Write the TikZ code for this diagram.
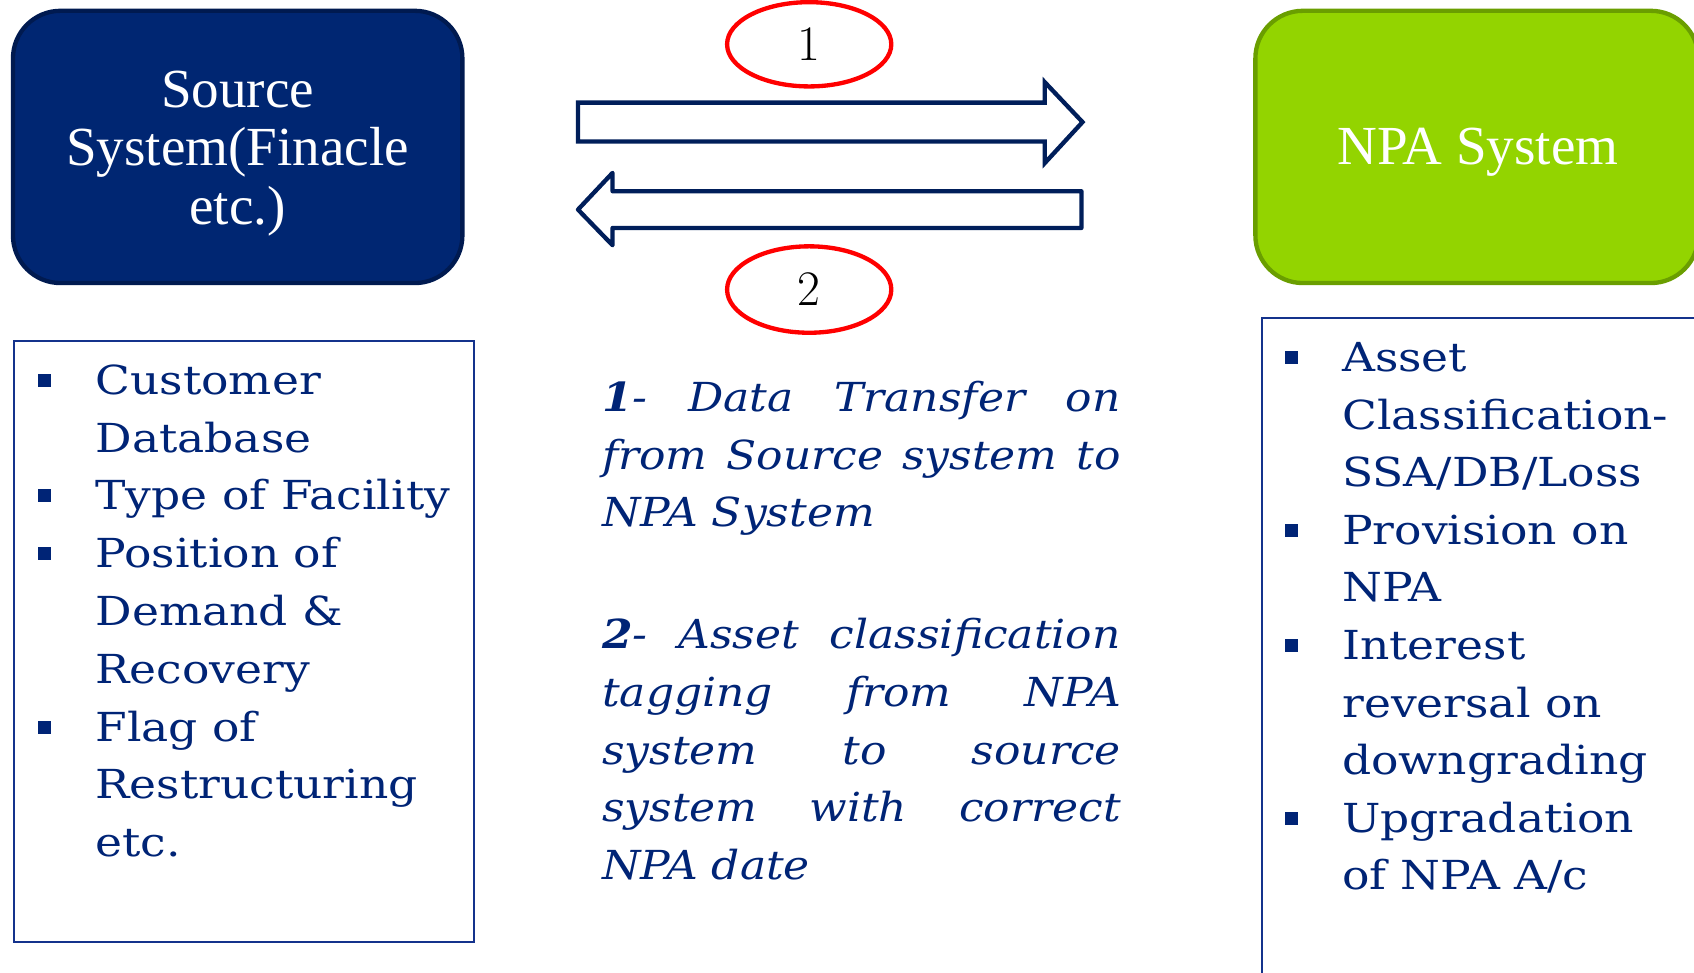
\documentclass[tikz,border=0pt]{standalone}
\usepackage{fontspec}
\newfontfamily\listfont[FakeStretch=1.14]{DejaVu Serif}
\newfontfamily\itlistfont[FakeStretch=1.1]{DejaVu Serif}
\newfontfamily\titlefont{Liberation Serif}
\usetikzlibrary{shapes.geometric}
\definecolor{navytext}{RGB}{0,36,118}
\definecolor{srcfill}{RGB}{0,38,114}
\definecolor{srcborder}{RGB}{0,26,80}
\definecolor{npafill}{RGB}{147,212,0}
\definecolor{npaborder}{RGB}{106,158,0}
\definecolor{arrowline}{RGB}{0,30,90}
\definecolor{ellred}{RGB}{255,0,0}
\definecolor{boxline}{RGB}{20,50,140}
\newcommand\blt{\makebox[26.5pt][l]{\rule[3.5pt]{6pt}{6pt}}}
\newcommand\ind{\hspace*{26.5pt}}
\begin{document}
\begin{tikzpicture}[x=0.5pt,y=-0.5pt,
  sysbox/.style={rounded corners=22pt, line width=2pt, minimum height=126pt,
    inner sep=0pt},
  systext/.style={inner sep=0pt, text=white, align=center,
    font=\titlefont\fontsize{25.5}{27}\selectfont},
  numell/.style={ellipse, draw=ellred, line width=2pt, minimum width=76pt,
    minimum height=39pt, inner sep=0pt, font=\fontsize{23}{25}\selectfont},
  bigarrow/.style={draw=arrowline, fill=white, line width=2pt},
  listbox/.style={draw=boxline, line width=1pt, inner sep=0pt},
  listtext/.style={anchor=base west, inner sep=0pt, text=navytext}]
\useasboundingbox (0,0) rectangle (1568,900);
\clip (0,0) rectangle (1568,900);
% system boxes
\node[sysbox, fill=srcfill, draw=srcborder, minimum width=208pt] (src) at (220,136) {};
\node[systext] (srclabel) at (220,142) {Source\\System(Finacle\\etc.)};
\node[sysbox, fill=npafill, draw=npaborder, minimum width=205pt] (npa) at (1367,136) {};
\node[systext] (npalabel) at (1368,141) {NPA System};
% arrows
\draw[bigarrow, line join=miter] (535,95) coordinate (a1s) -- (967,95) -- (967,76) -- (1002,113) coordinate (a1t)
  -- (967,151) -- (967,131) -- (535,131) -- cycle;
\draw[bigarrow, line join=round] (1001,177) coordinate (a2s) -- (567,177) -- (567,160) -- (535,194) coordinate (a2t)
  -- (567,227) -- (567,211) -- (1001,211) -- cycle;
% number ellipses
\node[numell] (e1) at (749,41) {1};
\node[numell, minimum height=40pt] (e2) at (749,268) {2};
% list boxes
\node[listbox, minimum width=213pt, minimum height=278pt] (lbox) at (226,594) {};
\node[listbox, minimum width=260pt, minimum height=340pt] (rbox) at (1428,634) {};
% left list
\node[listtext] (ltext) at (35,365) {\parbox[t]{230pt}{\listfont\fontsize{18.5}{26.75}\selectfont\raggedright
\blt Customer\\
\ind Database\\
\blt Type of Facility\\
\blt Position of\\
\ind Demand \&\\
\ind Recovery\\
\blt Flag of\\
\ind Restructuring\\
\ind etc.}};
% right list
\node[listtext] (rtext) at (1189,344) {\parbox[t]{230pt}{\listfont\fontsize{18.5}{26.65}\selectfont\raggedright
\blt Asset\\
\ind Classification-\\
\ind SSA/DB/Loss\\
\blt Provision on\\
\ind NPA\\
\blt Interest\\
\ind reversal on\\
\ind downgrading\\
\blt Upgradation\\
\ind of NPA A/c}};
% middle explanations
\node[listtext] (m1) at (557,381) {\parbox[t]{240pt}{\itlistfont\itshape\fontsize{18.5}{26.6}\selectfont
\makebox[240pt][s]{{\bfseries 1}- Data Transfer on}\\
\makebox[240pt][s]{from Source system to}\\
\makebox[240pt][l]{NPA System}}};
\node[listtext] (m2) at (557,600) {\parbox[t]{240pt}{\itlistfont\itshape\fontsize{18.5}{26.8}\selectfont
\makebox[240pt][s]{{\bfseries 2}- Asset classification}\\
\makebox[240pt][s]{tagging from NPA}\\
\makebox[240pt][s]{system to source}\\
\makebox[240pt][s]{system with correct}\\
\makebox[240pt][l]{NPA date}}};
\end{tikzpicture}
\end{document}
